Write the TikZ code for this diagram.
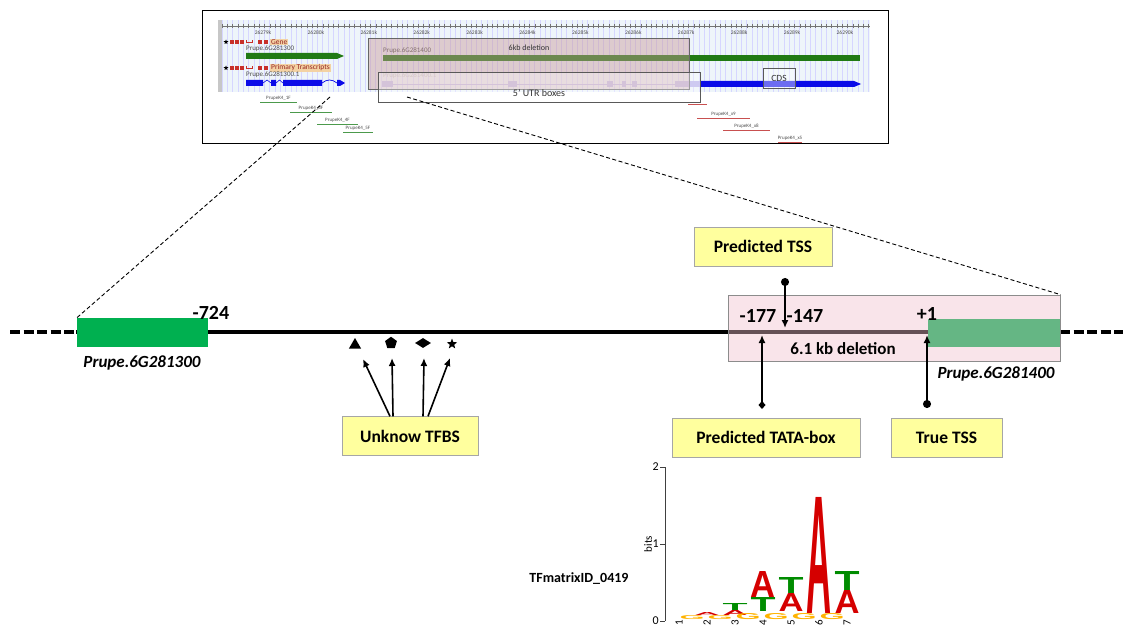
\documentclass[tikz,border=0pt]{standalone}
\usepackage{fontspec}
\setmainfont{Carlito}
\newfontfamily\logofont{Liberation Sans}
\usepackage{graphicx}
\usetikzlibrary{arrows.meta,calc,shapes.geometric}
\definecolor{boxyellow}{HTML}{FFFF9E}
\definecolor{genegreen}{HTML}{00B050}
\definecolor{deletionpink}{HTML}{F1BFCD}
\definecolor{browsergreen}{HTML}{217A14}
\definecolor{browserblue}{HTML}{0B0BE8}
\definecolor{utrpurple}{HTML}{B5AEEA}
\definecolor{gridblue}{HTML}{EEF5FA}
\definecolor{iconred}{HTML}{C8302A}
\definecolor{headertan}{HTML}{F3D2A4}
\definecolor{browserpink}{HTML}{C99A9A}
\definecolor{primergreen}{HTML}{4C9A4C}
\definecolor{primerred}{HTML}{C85050}
\definecolor{logored}{HTML}{D50000}
\definecolor{logogreen}{HTML}{008C00}
\definecolor{logoorange}{HTML}{FFB300}
\colorlet{tinytext}{black!70}
\tikzset{
  strand/.style={line width=4.5pt},
  strand end/.style={line width=4.5pt, dash pattern=on 10pt off 3.5pt},
  feature box/.style={
      draw=black!35, fill=boxyellow, inner sep=0pt,
      minimum height=39pt,
      font=\fontsize{17.5}{20}\selectfont\bfseries
    },
  site arrow/.style={
      line width=1.6pt,
        -{Latex[length=8pt,width=7pt]}
    },
  zoom line/.style={line width=0.9pt, dash pattern=on 4pt off 2.5pt},
  position label/.style={font=\fontsize{20}{22}\selectfont\bfseries, inner sep=0pt},
  gene label/.style={font=\fontsize{17}{20}\selectfont\bfseries\itshape, inner sep=0pt},
  site mark/.style={fill=black, inner sep=0pt},
  tiny label/.style={font=\fontsize{5.5}{6}\selectfont, inner sep=0pt, text=tinytext}
}
\newcommand{\logoletter}[6]{%
  \node[anchor=south west, inner sep=0pt, text=#6] (#1) at (#2,#3)
  {\resizebox{25pt}{#4pt}{\logofont\bfseries #5}};%
}

\begin{document}
\begin{tikzpicture}[x=1pt, y=-1pt]
  \useasboundingbox (0,0) rectangle (1123,628);

  % ------------------------------------------------------------------
  % Genome browser view of the locus.
  % ------------------------------------------------------------------
  \node[draw, line width=1.8pt, fill=white, minimum width=686pt,
    minimum height=133pt, inner sep=0pt] (browser) at (545.5,77) {};
  \fill[gridblue] (218,20) rectangle (870,92);
  \fill[black!22] (218,20) rectangle (222,92);
  \foreach \gx in {0,...,122}
  \draw[blue!16, line width=0.5pt] ({222+5.3*\gx},20) -- ({222+5.3*\gx},92);
  \draw[black!55, line width=0.6pt] (222,26) -- (870,26);
  \foreach \gx in {0,...,122}
  \draw[black!55, line width=0.4pt] ({222+5.3*\gx},24) -- ({222+5.3*\gx},28);
  \foreach \kb in {79,...,90}
  \node[tiny label] (kb\kb) at ({263+52.9*(\kb-79)},33) {262\kb k};

  \foreach \hy/\htext/\hname in {42/Gene/genehead, 68/Primary Transcripts/txhead} {
      \node[star, star points=5, star point ratio=2.2, site mark,
        minimum size=5pt] (\hname star) at (226,\hy) {};
      \foreach \ix in {232,237,242,260,266}
      \fill[iconred] (\ix-2,\hy-2) rectangle (\ix+2,\hy+2);
      \draw[iconred, line width=0.7pt, {Bar[width=3pt]}-{Bar[width=3pt]}]
      (245.5,\hy) -- (253,\hy);
      \node[tiny label, anchor=west, fill=headertan, text=iconred!75!black,
        font=\fontsize{7.5}{8}\selectfont, inner xsep=1pt, inner ysep=0.6pt]
      (\hname) at (270,\hy) {\htext};
    }

  % gene models
  \node[tiny label, anchor=west, font=\fontsize{7}{7}\selectfont] (name300) at (246,48.5) {Prupe.6G281300};
  \fill[browsergreen] (246,53) -- (337,53) -- (344,56) -- (337,59) -- (246,59) -- cycle;
  \node[tiny label, anchor=west, font=\fontsize{7}{7}\selectfont] (name400) at (383,50.5) {Prupe.6G281400};
  \fill[browsergreen] (383,55.5) rectangle (860,61);

  \node[tiny label, anchor=west, font=\fontsize{7}{7}\selectfont] (name300t) at (246,75) {Prupe.6G281300.1};
  \draw[browserblue, line width=0.6pt] (263,83) -- (267,80) -- (271,83);
  \draw[browserblue, line width=0.6pt] (276,83) -- (279.5,80) -- (283,83);
  \fill[browserblue] (246,80) rectangle (263,86) (271,80) rectangle (276,86)
  (283,80) rectangle (322,86);
  \draw[browserblue, line width=0.7pt] (322,83) .. controls (327,79) and (332,79) .. (337,83);
  \fill[browserblue] (337,80) -- (340,80) -- (345,83) -- (340,86) -- (337,86) -- cycle;

  \node[tiny label, anchor=west, text=black!28, font=\fontsize{7}{7}\selectfont] (name400t) at (383,76) {Prupe.6G281400.1};
  \draw[utrpurple, line width=0.6pt] (393,84) -- (700,84);
  \foreach \ua/\ub in {382/393, 508/517, 607/613, 622/626, 632/637, 675/700}
  \fill[utrpurple] (\ua,81) rectangle (\ub,87);
  \fill[browserblue] (700,81) -- (854,81) -- (861,84) -- (854,87) -- (700,87) -- cycle;

  % annotation overlays
  \node[draw=black!60, fill=browserpink, fill opacity=0.45, draw opacity=1,
    minimum width=321pt, minimum height=51pt, inner sep=0pt, line width=0.6pt]
  (del6kb) at (529,63.5) {};
  \node[tiny label, font=\fontsize{8}{8}\selectfont, text=black!80] (del6kbtext) at (529,47.5) {6kb deletion};
  \node[draw=black!65, fill=white, fill opacity=0.35, draw opacity=1,
    minimum width=322pt, minimum height=30pt, inner sep=0pt, line width=0.6pt]
  (utrbox) at (539,87) {};
  \node[tiny label, font=\fontsize{10}{10}\selectfont, text=black!80] (utrtext) at (539,93) {5' UTR boxes};
  \node[draw=black!65, fill=white, fill opacity=0.4, draw opacity=1, text opacity=1,
    minimum width=32pt, minimum height=20pt, inner sep=0pt, line width=0.6pt,
    font=\fontsize{9.5}{10}\selectfont, text=black!80] (cds) at (779,78) {CDS};

  % primers
  \foreach \pa/\pb/\py/\pname in {260/297/102/PrupeK4\_1F, 290/332/112/PrupeK4\_3F,
      317/358/124/PrupeK4\_4F, 343/373/132/PrupeK4\_5F}
  \draw[primergreen, line width=0.7pt] (\pa,\py) -- (\pb,\py)
  node[tiny label, font=\fontsize{5}{5}\selectfont, above=1.5pt, midway] {\pname};
  \draw[primerred, line width=0.7pt] (688,104) -- (707,104);
  \foreach \pa/\pb/\py/\pname in {697/750/118/PrupeK4\_x9, 723/770/130/PrupeK4\_x8,
      778/802/142/PrupeK4\_x5}
  \draw[primerred, line width=0.7pt] (\pa,\py) -- (\pb,\py)
  node[tiny label, font=\fontsize{5}{5}\selectfont, above=1.5pt, midway] {\pname};

  % ------------------------------------------------------------------
  % Promoter region between the two genes.
  % ------------------------------------------------------------------
  \draw[strand] (76,332) -- (1060,332);
  \draw[strand end] (10,332) -- (77,332);
  \draw[strand end] (1060,332) -- (1123,332);

  \node[fill=genegreen, minimum width=131pt, minimum height=29pt, inner sep=0pt]
  (leftgene) at (142.5,332.5) {};
  \node[fill=genegreen, minimum width=132pt, minimum height=28pt, inner sep=0pt]
  (rightgene) at (994,333) {};
  \node[draw=black!45, fill=deletionpink, fill opacity=0.42, draw opacity=1,
    minimum width=332pt, minimum height=66pt, inner sep=0pt, line width=0.8pt]
  (del) at (894,328) {};

  \node[position label] (p724) at (211,313) {-724};
  \node[position label] (p177) at (758,316) {-177};
  \node[position label] (p147) at (805,316) {-147};
  \node[position label] (p1) at (927,314) {+1};
  \node[font=\fontsize{17}{20}\selectfont\bfseries, inner sep=0pt] (deltext) at (843,349) {6.1 kb deletion};

  \node[gene label] (gene300) at (142,363) {Prupe.6G281300};
  \node[gene label] (gene400) at (996,374) {Prupe.6G281400};

  % zoom from the browser
  \coordinate (zoomleft) at (330,97);
  \coordinate (zoomright) at (407,97);
  \draw[zoom line] (zoomleft) -- (leftgene.north west);
  \draw[zoom line] (zoomright) -- (del.north east);

  % ------------------------------------------------------------------
  % Binding sites and start sites.
  % ------------------------------------------------------------------
  \node[site mark, regular polygon, regular polygon sides=3, minimum size=14pt] (tri) at (355,345) {};
  \node[site mark, regular polygon, regular polygon sides=5, minimum size=12.5pt] (pent) at (391,343) {};
  \node[site mark, diamond, minimum width=16pt, minimum height=10pt] (diam) at (423,343) {};
  \node[site mark, star, star points=5, star point ratio=2.4, minimum size=11pt] (starsite) at (452,344) {};

  \node[feature box, minimum width=136pt] (tfbs) at (410,436) {Unknow TFBS};
  \draw[site arrow] ([xshift=-20pt]tfbs.north) -- ([shift={(8,14)}]tri.center);
  \draw[site arrow] ([xshift=-17pt]tfbs.north) -- ([shift={(1,15)}]pent.center);
  \draw[site arrow] ([xshift=13pt]tfbs.north) -- ([shift={(1,15)}]diam.center);
  \draw[site arrow] ([xshift=18pt]tfbs.north) -- ([shift={(-2,14)}]starsite.center);

  \node[feature box, minimum width=138pt] (ptss) at (763,246.5) {Predicted TSS};
  \coordinate (tsspin) at (785,278);
  \coordinate (tsshit) at (785,328);
  \draw[site arrow, {Circle[length=8pt]}-{Latex[length=8pt,width=7pt]}] (tsspin) -- (tsshit);

  \node[feature box, minimum width=188pt] (tata) at (766,437.5) {Predicted TATA-box};
  \coordinate (tatapin) at (762,409);
  \coordinate (tatahit) at (762,335);
  \draw[site arrow, {Diamond[length=8pt,width=7pt]}-{Latex[length=8pt,width=7pt]}] (tatapin) -- (tatahit);

  \node[feature box, minimum width=111pt] (truetss) at (946.5,437.5) {True TSS};
  \coordinate (truepin) at (927,408);
  \coordinate (truehit) at (927,335);
  \draw[site arrow, {Circle[length=8pt]}-{Latex[length=8pt,width=7pt]}] (truepin) -- (truehit);

  % ------------------------------------------------------------------
  % Sequence logo of the TATA-box matrix.
  % ------------------------------------------------------------------
  \node[font=\fontsize{14}{16}\selectfont\bfseries, inner sep=0pt] (tfmatrix) at (579,579) {TFmatrixID\_0419};
  \draw[black!75, line width=1pt] (665,467) -- (665,621);
  \foreach \ty/\tl in {467/2, 544/1, 621/0} {
      \draw[black!75, line width=1pt] (660,\ty) -- (665,\ty);
      \node[font=\fontsize{12}{12}\selectfont, anchor=east, inner sep=1pt] (tick\tl) at (660,\ty) {\tl};
    }
  \node[rotate=90, font=\fontsize{11}{11}\selectfont, inner sep=0pt] (bits) at (648,544) {bits};
  \foreach \col in {1,...,7}
  \node[rotate=90, anchor=east, font=\fontsize{11}{11}\selectfont, inner sep=1pt] (pos\col) at ({651+28*\col},619) {\col};

  \logoletter{a2}{694.5}{616}{3}{A}{logored}
  \logoletter{t3}{722.5}{611}{7}{T}{logogreen}
  \logoletter{a3}{722.5}{616}{5}{A}{logored}
  \logoletter{a4}{750.5}{598}{26}{A}{logored}
  \logoletter{t4}{750.5}{612}{14}{T}{logogreen}
  \logoletter{t5}{778.5}{594}{16}{T}{logogreen}
  \logoletter{a5}{778.5}{612}{18}{A}{logored}
  \logoletter{a6}{806.5}{614}{116}{A}{logored}
  \logoletter{t7}{834.5}{591}{19}{T}{logogreen}
  \logoletter{a7}{834.5}{614}{23}{A}{logored}
  \foreach \col/\gh in {2/4, 3/4, 4/6, 5/6, 6/6, 7/6} {
      \logoletter{g\col}{{623.5+28*\col}}{620}{\gh}{G}{logoorange}
    }

\end{tikzpicture}
\end{document}
